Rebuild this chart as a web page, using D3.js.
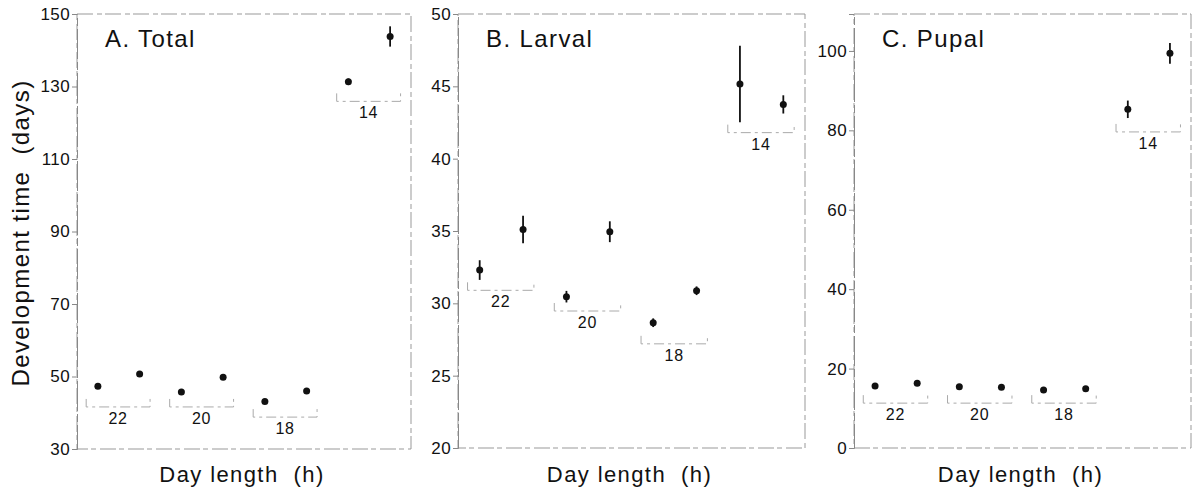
<!DOCTYPE html>
<html>
<head>
<meta charset="utf-8">
<script src="https://cdn.jsdelivr.net/npm/d3@7"></script>
<style>
  html, body { margin: 0; padding: 0; background: #fff; }
  svg { display: block; }
  text { font-family: "Liberation Sans", Arial, Helvetica, sans-serif; fill: #111; }
</style>
</head>
<body>
<svg id="chart" width="1192" height="492"></svg>
<script>
// ---------- data ----------
const dayLengths = ["22", "20", "18", "14"];           // two points per day length
const panelTitles = ["A. Total", "B. Larval", "C. Pupal"];

const totalMean  = [47.3, 50.7, 45.7, 49.8, 43.1, 46.0, 131.3, 143.8];
const totalErr   = [0.4, 0.4, 0.4, 0.4, 0.4, 0.4, 0.9, 2.8];
const larvalMean = [32.3, 35.1, 30.46, 34.95, 28.66, 30.87, 45.16, 43.75];
const larvalErr  = [0.68, 0.95, 0.4, 0.72, 0.3, 0.3, 2.65, 0.63];
const pupalMean  = [15.6, 16.3, 15.4, 15.3, 14.6, 14.9, 85.3, 99.4];
const pupalErr   = [0.3, 0.3, 0.3, 0.3, 0.3, 0.3, 2.2, 2.6];

const totalTicks  = [30, 50, 70, 90, 110, 130, 150];
const larvalTicks = [20, 25, 30, 35, 40, 45, 50];
const pupalTicks  = [0, 20, 40, 60, 80, 100];

const totalDomain  = [30, 150];
const larvalDomain = [20, 50];
const pupalDomain  = [0, 109.3];

// level (in data units) of the day-length bracket under each pair
const totalBracket  = [41.6, 41.6, 38.8, 125.9];
const larvalBracket = [30.9, 29.47, 27.2, 41.8];
const pupalBracket  = [11.3, 11.3, 11.3, 79.6];

const xLabel = "Day length\u00a0\u00a0(h)";
const yLabel = "Development time\u00a0\u00a0(days)";

// ---------- layout ----------
const svg = d3.select("#chart");
const panels = [
  { title: panelTitles[0], mean: totalMean,  err: totalErr,  ticks: totalTicks,  domain: totalDomain,  bracket: totalBracket,  x0: 77,  x1: 411,  y0: 449, y1: 14 },
  { title: panelTitles[1], mean: larvalMean, err: larvalErr, ticks: larvalTicks, domain: larvalDomain, bracket: larvalBracket, x0: 458, x1: 805,  y0: 448, y1: 14 },
  { title: panelTitles[2], mean: pupalMean,  err: pupalErr,  ticks: pupalTicks,  domain: pupalDomain,  bracket: pupalBracket,  x0: 854, x1: 1191, y0: 448, y1: 14 }
];

const frameStroke = "#999";
const frameDash = "16,4,5,3";

panels.forEach(p => {
  const x = d3.scaleLinear().domain([-0.5, 7.5]).range([p.x0, p.x1]);
  const y = d3.scaleLinear().domain(p.domain).range([p.y0, p.y1]);
  const g = svg.append("g");

  // frame box drawn faint like the scanned original
  g.append("rect")
    .attr("x", p.x0).attr("y", p.y1)
    .attr("width", p.x1 - p.x0).attr("height", p.y0 - p.y1)
    .attr("fill", "none")
    .attr("stroke", frameStroke)
    .attr("stroke-width", 1)
    .attr("stroke-dasharray", frameDash);

  // y axis
  const yAxis = d3.axisLeft(y).tickValues(p.ticks).tickSize(5).tickPadding(2).tickFormat(d3.format("d"));
  const ay = g.append("g").attr("transform", `translate(${p.x0},0)`).call(yAxis);
  ay.select(".domain").attr("stroke", "#888").attr("stroke-dasharray", "30,3,8,3");
  ay.selectAll(".tick line").attr("stroke", "#888");
  ay.selectAll(".tick text")
    .attr("font-size", 17).attr("fill", "#111")
    .attr("font-family", "'Liberation Sans', Arial, sans-serif")
    .attr("letter-spacing", 0.4);

  // title
  g.append("text")
    .attr("x", x(-0.5) + 28).attr("y", 47)
    .attr("font-size", 24).attr("letter-spacing", 1.4)
    .text(p.title);

  // brackets for day lengths
  dayLengths.forEach((dl, k) => {
    const xa = x(2 * k - 0.28), xb = x(2 * k + 1.25), yb = y(p.bracket[k]);
    g.append("path")
      .attr("d", `M${xa},${yb - 8}V${yb}H${xb}V${yb - 8}`)
      .attr("fill", "none")
      .attr("stroke", "#aaa")
      .attr("stroke-width", 1)
      .attr("stroke-dasharray", "10,4,3,4");
    g.append("text")
      .attr("x", (xa + xb) / 2).attr("y", yb + 17)
      .attr("text-anchor", "middle")
      .attr("font-size", 16).attr("letter-spacing", 0.8)
      .text(dl);
  });

  // error bars
  g.selectAll("line.err").data(p.mean).enter().append("line")
    .attr("class", "err")
    .attr("x1", (d, i) => x(i)).attr("x2", (d, i) => x(i))
    .attr("y1", (d, i) => y(d - p.err[i]))
    .attr("y2", (d, i) => y(d + p.err[i]))
    .attr("stroke", "#111").attr("stroke-width", 1.8);

  // points
  g.selectAll("circle.pt").data(p.mean).enter().append("circle")
    .attr("class", "pt")
    .attr("cx", (d, i) => x(i)).attr("cy", d => y(d))
    .attr("r", 3.5).attr("fill", "#111");

  // x label
  g.append("text")
    .attr("x", (p.x0 + p.x1) / 2 - 2).attr("y", 482)
    .attr("text-anchor", "middle")
    .attr("font-size", 22).attr("letter-spacing", 1.4)
    .text(xLabel);
});

// y label
svg.append("text")
  .attr("transform", "translate(29,233) rotate(-90)")
  .attr("text-anchor", "middle")
  .attr("font-size", 24).attr("letter-spacing", 1.4)
  .text(yLabel);
</script>
</body>
</html>
